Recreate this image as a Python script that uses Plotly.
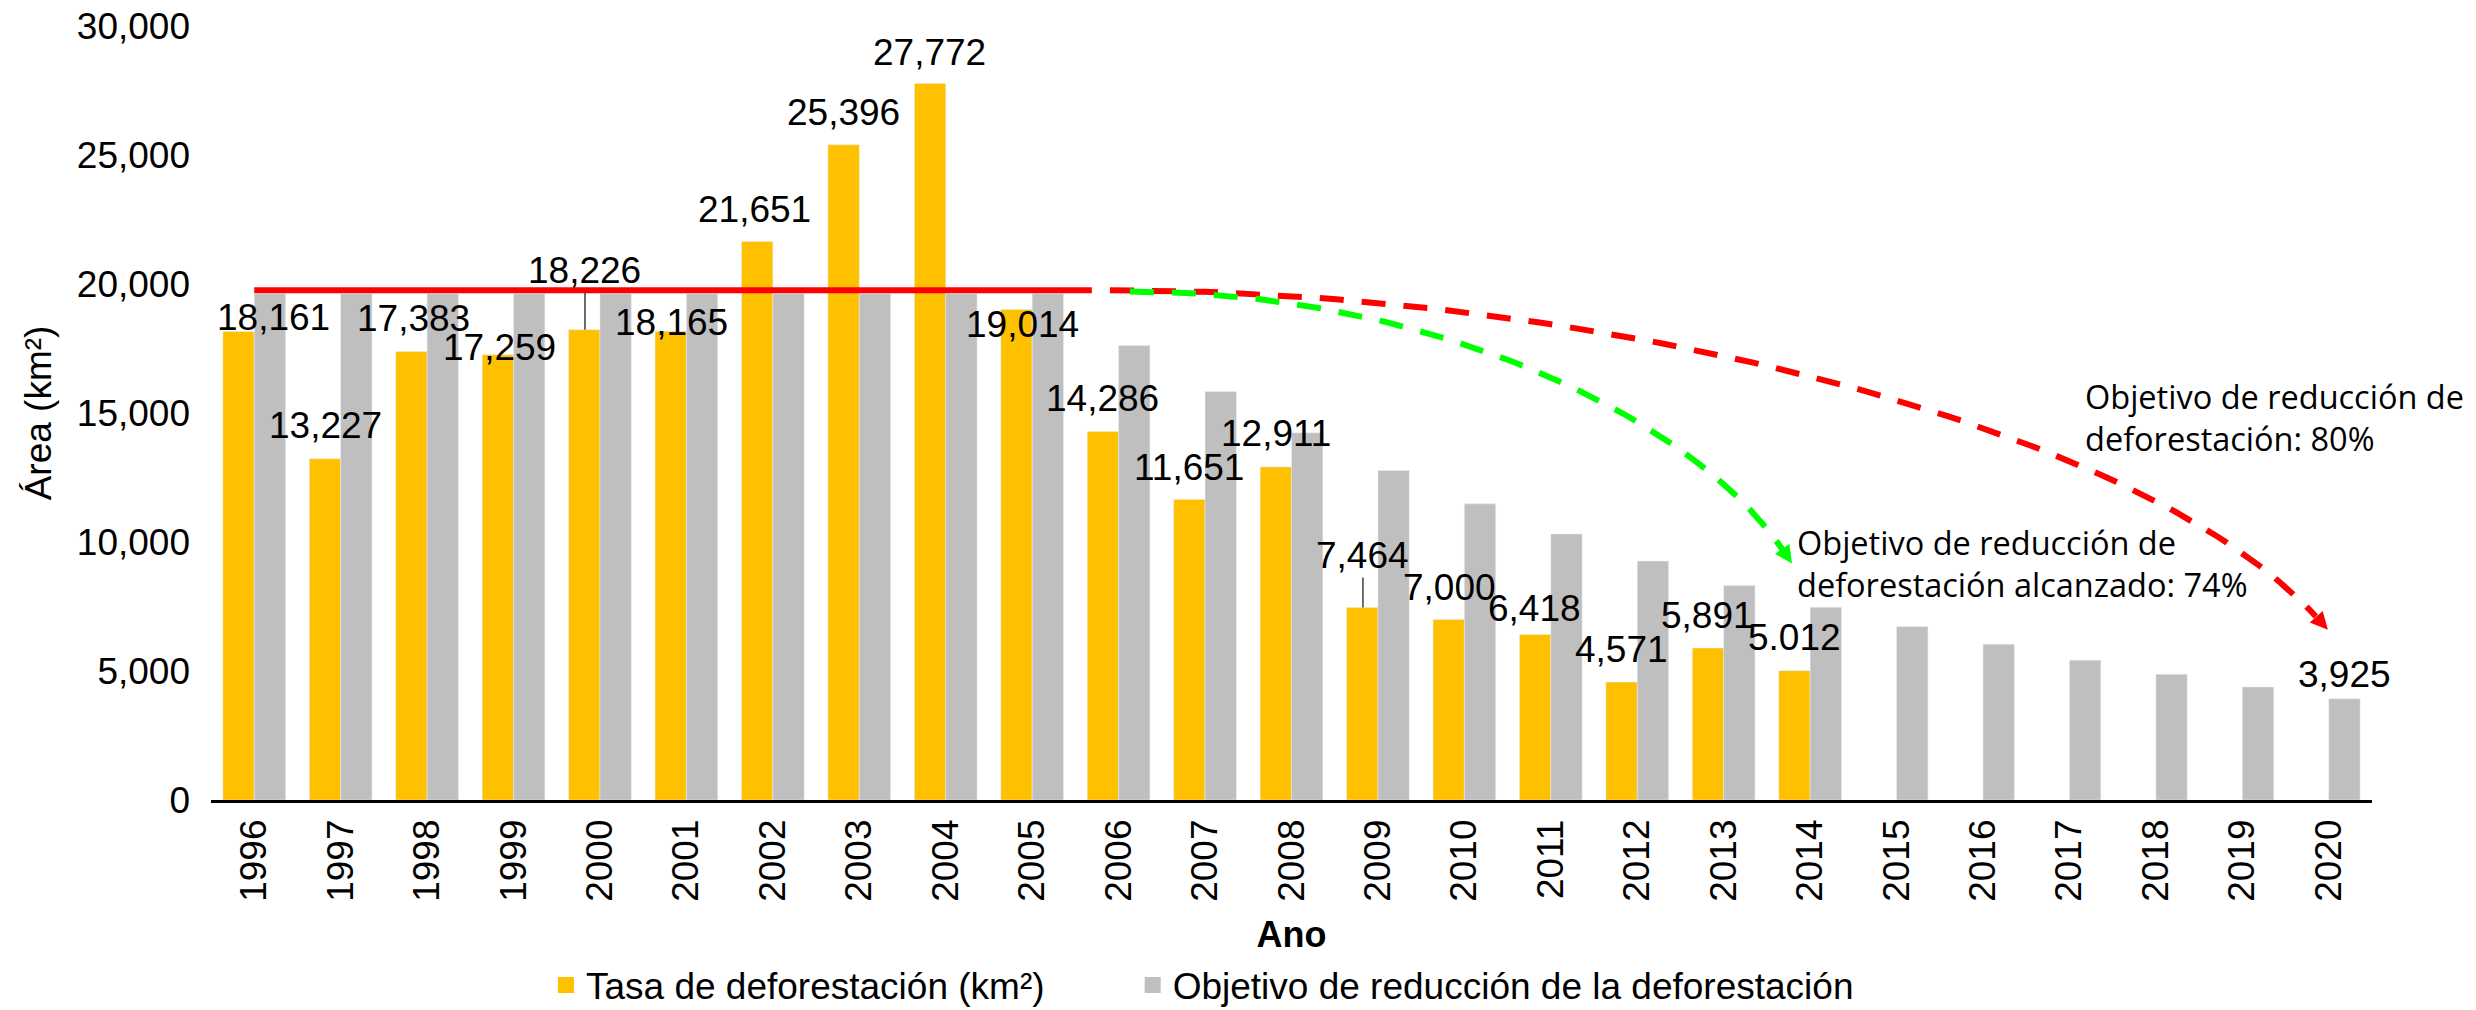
import math
import plotly.graph_objects as go

# ---------------- data ----------------
years = list(range(1996, 2021))
tick_labels = [str(y) for y in years]

deforestation = [18161, 13227, 17383, 17259, 18226, 18165, 21651, 25396, 27772, 19014,
                 14286, 11651, 12911, 7464, 7000, 6418, 4571, 5891, 5012,
                 None, None, None, None, None, None]
deforestation_labels = ["18,161", "13,227", "17,383", "17,259", "18,226", "18,165", "21,651",
                        "25,396", "27,772", "19,014", "14,286", "11,651", "12,911", "7,464",
                        "7,000", "6,418", "4,571", "5,891", "5.012"]

target = [19625, 19625, 19625, 19625, 19625, 19625, 19625, 19625, 19625, 19625,
          17620, 15830, 14230, 12770, 11480, 10310, 9260, 8310, 7470,
          6720, 6040, 5420, 4870, 4380, 3925]
target_label_year = 2020
target_label_text = "3,925"

y_ticks = [0, 5000, 10000, 15000, 20000, 25000, 30000]

series_names = ["Tasa de deforestación (km²)", "Objetivo de reducción de la deforestación"]
note_red = "Objetivo de reducción de<br>deforestación: 80%"
note_green = "Objetivo de reducción de<br>deforestación alcanzado: 74%"

# ---------------- styles ----------------
ORANGE = "#FFC000"
GRAY = "#BFBFBF"
RED = "#FF0000"
GREEN = "#00FF00"
FONT = "Liberation Sans, Arial, sans-serif"
NOTE_FONT = "Open Sans, Lato, sans-serif"
FS = 37
NOTE_FS = 32.5

# label placement (pixel shifts: x from year centre, y upward from bar top; leader flag)
label_shift = [(19, 14, False), (-15, 33, False), (-14, 33, False), (-14, 7, False),
               (-15, 59, True), (-15, 9, False), (-18, 32, False), (-16, 32, False),
               (-16, 31, False), (-10, -15, False), (-16, 33, False), (-16, 32, False),
               (-16, 33, False), (-15, 52, True), (-15, 32, False), (-16, 26, False),
               (-16, 33, False), (-16, 33, False), (-16, 33, False)]
target_label_shift = (16, 24)

# decorative reference line and curved arrows (in axis units)
ref_level = 19760
ref_x = (1996.0, 2005.69)
red_curve = [(2005.90, 19760), (2011.69, 19760), (2017.92, 14314), (2019.85, 7112)]
red_tip = (2019.99, 6597, 48)
green_curve = [(2006.13, 19709), (2009.60, 19709), (2012.65, 14849), (2013.68, 9709)]
green_tip = (2013.79, 9167, 56)


def bezier(pts, n=80):
    (x0, y0), (x1, y1), (x2, y2), (x3, y3) = pts
    xs, ys = [], []
    for i in range(n + 1):
        t = i / n
        a, b, c, d = (1 - t) ** 3, 3 * t * (1 - t) ** 2, 3 * t * t * (1 - t), t ** 3
        xs.append(a * x0 + b * x1 + c * x2 + d * x3)
        ys.append(a * y0 + b * y1 + c * y2 + d * y3)
    return xs, ys


def arrow_path(angle_deg, length=17.5, half=8.7):
    th = math.radians(angle_deg)
    dx, dy = math.cos(th), -math.sin(th)
    nx, ny = math.sin(th), math.cos(th)
    bx, by = -length * dx, -length * dy
    p1 = (bx + half * nx, by + half * ny)
    p2 = (bx - half * nx, by - half * ny)
    return f"M0,0 L{p1[0]:.2f},{p1[1]:.2f} L{p2[0]:.2f},{p2[1]:.2f} Z"


fig = go.Figure()

fig.add_trace(go.Bar(x=years, y=deforestation, marker_color=ORANGE, name=series_names[0],
                     showlegend=False, hoverinfo="skip"))
fig.add_trace(go.Bar(x=years, y=target, marker_color=GRAY, name=series_names[1],
                     showlegend=False, hoverinfo="skip"))

# reference line
fig.add_trace(go.Scatter(x=list(ref_x), y=[ref_level, ref_level], mode="lines",
                         line=dict(color=RED, width=6), showlegend=False, hoverinfo="skip"))

# dashed curves
for pts, col in ((red_curve, RED), (green_curve, GREEN)):
    xs, ys = bezier(pts)
    fig.add_trace(go.Scatter(x=xs, y=ys, mode="lines",
                             line=dict(color=col, width=6, dash="24px,18px"),
                             showlegend=False, hoverinfo="skip"))

# arrow heads
for (tx, ty, ang), col in ((red_tip, RED), (green_tip, GREEN)):
    fig.add_shape(type="path", xref="x", yref="y", xsizemode="pixel", ysizemode="pixel",
                  xanchor=tx, yanchor=ty, path=arrow_path(ang),
                  fillcolor=col, line=dict(width=0))

# legend entries
fig.add_trace(go.Scatter(x=[None], y=[None], mode="markers", name=series_names[0],
                         marker=dict(symbol="square", size=20, color=ORANGE), legend="legend"))
fig.add_trace(go.Scatter(x=[None], y=[None], mode="markers", name=series_names[1],
                         marker=dict(symbol="square", size=20, color=GRAY), legend="legend2"))

# data labels
annotations = []
for yr, val, txt, (xs_, ys_, leader) in zip(years, deforestation, deforestation_labels, label_shift):
    if leader:
        annotations.append(dict(x=yr, y=val, xref="x", yref="y", text=txt, showarrow=True,
                                arrowhead=0, arrowwidth=1.5, arrowcolor="#404040",
                                ax=0, ay=-ys_, xshift=xs_,
                                font=dict(family=FONT, size=FS, color="black")))
    else:
        annotations.append(dict(x=yr, y=val, xref="x", yref="y", text=txt, showarrow=False,
                                xshift=xs_, yshift=ys_, xanchor="center", yanchor="middle",
                                font=dict(family=FONT, size=FS, color="black")))
ti = years.index(target_label_year)
annotations.append(dict(x=target_label_year, y=target[ti], xref="x", yref="y",
                        text=target_label_text, showarrow=False,
                        xshift=target_label_shift[0], yshift=target_label_shift[1],
                        xanchor="center", yanchor="middle",
                        font=dict(family=FONT, size=FS, color="black")))

# notes
annotations.append(dict(x=2017.16, y=14826, xref="x", yref="y", text=note_red, showarrow=False,
                        xanchor="left", yanchor="middle", align="left",
                        font=dict(family=NOTE_FONT, size=NOTE_FS, color="black")))
annotations.append(dict(x=2013.82, y=9167, xref="x", yref="y", text=note_green, showarrow=False,
                        xanchor="left", yanchor="middle", align="left",
                        font=dict(family=NOTE_FONT, size=NOTE_FS, color="black")))

fig.update_layout(
    width=2476, height=1010,
    margin=dict(l=211, r=104, t=26, b=210, autoexpand=False),
    plot_bgcolor="white", paper_bgcolor="white",
    barmode="group", bargap=0.275, bargroupgap=0,
    font=dict(family=FONT, size=FS, color="black"),
    annotations=annotations,
    legend=dict(x=0.155, y=-0.2395, xanchor="left", yanchor="middle", orientation="h",
                font=dict(family=FONT, size=FS), bgcolor="rgba(0,0,0,0)"),
    legend2=dict(x=0.4265, y=-0.2395, xanchor="left", yanchor="middle", orientation="h",
                 font=dict(family=FONT, size=FS), bgcolor="rgba(0,0,0,0)"),
    xaxis=dict(range=[1995.5, 2020.5], tickmode="array", tickvals=years, ticktext=tick_labels,
               tickangle=-90, showgrid=False, zeroline=False, showline=True,
               linecolor="black", linewidth=2.5, ticks="", ticklabelstandoff=2,
               automargin=False,
               tickfont=dict(family=FONT, size=FS, color="black"),
               title=dict(text="<b>Ano</b>", standoff=21,
                          font=dict(family=FONT, size=36, color="black"))),
    yaxis=dict(range=[0, 30000], tickmode="array", tickvals=y_ticks, tickformat=",",
               showgrid=False, zeroline=False, showline=False, ticks="",
               ticklabelstandoff=20, automargin=False,
               tickfont=dict(family=FONT, size=FS, color="black"),
               title=dict(text="Área (km²)", standoff=13,
                          font=dict(family=FONT, size=FS, color="black"))),
)

fig.write_html("out.html", config={"displayModeBar": False},
               post_script="document.body.style.margin='0px';")
